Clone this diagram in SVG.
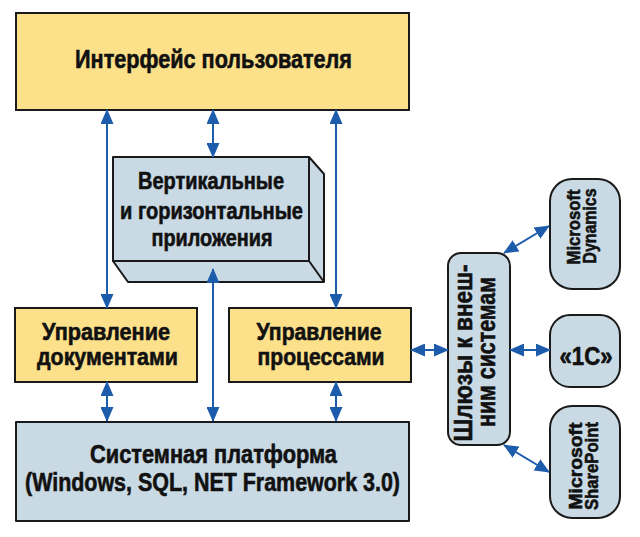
<svg xmlns="http://www.w3.org/2000/svg" width="640" height="537" viewBox="0 0 640 537">
<style>
.y{fill:#fde08a;stroke:#1a1a1a;stroke-width:2}
.b{fill:#c9dae4;stroke:#1a1a1a;stroke-width:2;stroke-linejoin:round}
.t{font-family:"Liberation Sans",Arial,sans-serif;font-weight:bold;fill:#111;stroke:#111;stroke-width:0.6;text-anchor:middle}
.c line{stroke:#1d5cab;stroke-width:2;marker-start:url(#a);marker-end:url(#a)}
</style>
<defs>
<marker id="a" markerUnits="userSpaceOnUse" markerWidth="15" markerHeight="13" refX="14" refY="6.5" orient="auto-start-reverse" viewBox="0 0 15 13">
<path d="M0,0 L15,6.5 L0,13 z" fill="#1d5cab"/>
</marker>
</defs>
<rect width="640" height="537" fill="#fff"/>
<g id="ui">
<rect class="y" x="16" y="13" width="393" height="97"/>
<text class="t" x="213.5" y="68" font-size="26" textLength="277" lengthAdjust="spacingAndGlyphs">Интерфейс пользователя</text>
</g>
<g id="apps">
<path class="b" d="M309,157 L324,174 L324,282 L128,282 L113,261 L309,261 Z"/>
<path class="b" d="M309,261 L324,282"/>
<rect class="b" x="113" y="157" width="196" height="104"/>
<text class="t" x="211" y="189" font-size="24" textLength="146" lengthAdjust="spacingAndGlyphs">Вертикальные</text>
<text class="t" x="211.5" y="219" font-size="24" textLength="183" lengthAdjust="spacingAndGlyphs">и горизонтальные</text>
<text class="t" x="212" y="246" font-size="24" textLength="121" lengthAdjust="spacingAndGlyphs">приложения</text>
</g>
<g id="docs">
<rect class="y" x="15" y="308" width="182" height="74"/>
<text class="t" x="106" y="340" font-size="24" textLength="128" lengthAdjust="spacingAndGlyphs">Управление</text>
<text class="t" x="107.5" y="365" font-size="24" textLength="141" lengthAdjust="spacingAndGlyphs">документами</text>
</g>
<g id="procs">
<rect class="y" x="229" y="308" width="182" height="74"/>
<text class="t" x="319" y="340" font-size="24" textLength="125" lengthAdjust="spacingAndGlyphs">Управление</text>
<text class="t" x="321" y="365" font-size="24" textLength="127" lengthAdjust="spacingAndGlyphs">процессами</text>
</g>
<g id="platform">
<rect class="b" x="16" y="422" width="393" height="99"/>
<text class="t" x="213.5" y="463" font-size="25" textLength="247" lengthAdjust="spacingAndGlyphs">Системная платформа</text>
<text class="t" x="212.5" y="491" font-size="25" textLength="375" lengthAdjust="spacingAndGlyphs">(Windows, SQL, NET Framework 3.0)</text>
</g>
<g id="gateways">
<rect class="b" x="448" y="253" width="62" height="192" rx="13"/>
<g transform="rotate(-90)">
<text class="t" x="-353" y="472" font-size="26" textLength="177" lengthAdjust="spacingAndGlyphs">Шлюзы к внеш-</text>
<text class="t" x="-352" y="495" font-size="26" textLength="150" lengthAdjust="spacingAndGlyphs">ним системам</text>
</g>
</g>
<g id="dynamics">
<rect class="b" x="550" y="179" width="70" height="110" rx="22"/>
<g transform="rotate(-90)">
<text class="t" x="-227" y="580" font-size="19" textLength="75" lengthAdjust="spacingAndGlyphs">Microsoft</text>
<text class="t" x="-226" y="596" font-size="19" textLength="75" lengthAdjust="spacingAndGlyphs">Dynamics</text>
</g>
</g>
<g id="onec">
<rect class="b" x="550" y="315" width="70" height="72" rx="20"/>
<text class="t" x="586" y="365" font-size="25" textLength="53" lengthAdjust="spacingAndGlyphs">«1С»</text>
</g>
<g id="sharepoint">
<rect class="b" x="550" y="406" width="70" height="112" rx="22"/>
<g transform="rotate(-90)">
<text class="t" x="-466" y="582" font-size="19" textLength="87" lengthAdjust="spacingAndGlyphs">Microsoft</text>
<text class="t" x="-466" y="598" font-size="19" textLength="88" lengthAdjust="spacingAndGlyphs">SharePoint</text>
</g>
</g>
<g class="c" id="connectors">
<line x1="107" y1="110" x2="107" y2="308"/>
<line x1="213" y1="110" x2="213" y2="157"/>
<line x1="336" y1="110" x2="336" y2="308"/>
<line x1="213" y1="269" x2="213" y2="421"/>
<line x1="107" y1="382" x2="107" y2="421"/>
<line x1="336" y1="382" x2="336" y2="421"/>
<line x1="411" y1="350" x2="448" y2="350"/>
<line x1="510" y1="350" x2="550" y2="350"/>
<line x1="504" y1="253" x2="549" y2="226"/>
<line x1="504" y1="445" x2="549" y2="472"/>
</g>
</svg>
